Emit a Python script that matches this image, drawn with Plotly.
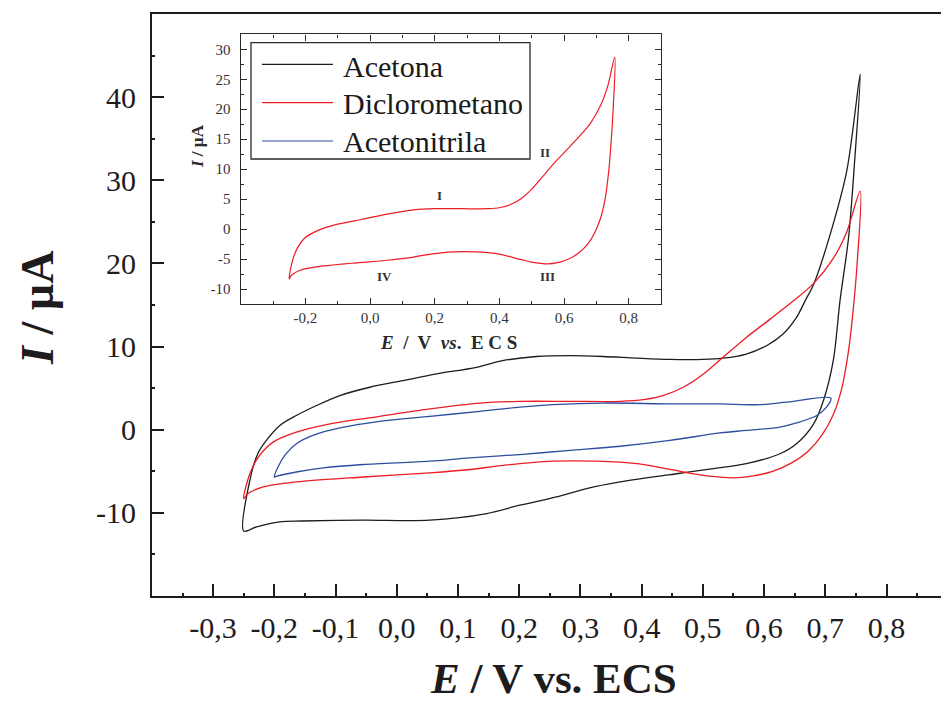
import plotly.graph_objects as go

# ---------------- data ----------------
series_names = ["Acetona", "Diclorometano", "Acetonitrila"]

E_acetona = [-0.250, -0.240, -0.227, -0.213, -0.191, -0.164, -0.131, -0.093, -0.044, 0.010,
             0.065, 0.130, 0.173, 0.228, 0.283, 0.337, 0.392, 0.446, 0.500, 0.533,
             0.571, 0.604, 0.631, 0.653, 0.667, 0.681, 0.708, 0.735, 0.757,
             0.748, 0.738, 0.724, 0.713, 0.697, 0.681, 0.653, 0.626, 0.571, 0.517,
             0.463, 0.365, 0.310, 0.261, 0.201, 0.147, 0.054, -0.055, -0.156, -0.191,
             -0.229, -0.250]
I_acetona = [-12.2, -6.1, -2.9, -1.3, 0.5, 1.7, 2.9, 4.1, 5.1, 5.9,
             6.7, 7.5, 8.3, 8.8, 8.9, 8.8, 8.6, 8.45, 8.45, 8.6,
             9.1, 10.1, 11.5, 13.5, 15.5, 17.5, 23.5, 31.1, 42.8,
             32.4, 23.1, 15.5, 8.3, 3.5, 0.7, -1.7, -2.9, -4.1, -4.7,
             -5.25, -6.3, -7.1, -8.1, -9.1, -10.1, -10.9, -10.9, -11.0, -11.1,
             -11.7, -12.2]

E_dcm = [-0.250, -0.240, -0.224, -0.202, -0.164, -0.109, -0.028, 0.054, 0.136, 0.201,
         0.283, 0.365, 0.403, 0.435, 0.468, 0.501, 0.533, 0.571, 0.610, 0.648,
         0.681, 0.713, 0.735, 0.757,
         0.752, 0.745, 0.738, 0.727, 0.713, 0.695, 0.672, 0.645, 0.615, 0.580,
         0.550, 0.500, 0.468, 0.392, 0.326, 0.255, 0.174, 0.119, 0.054, -0.055,
         -0.164, -0.218, -0.243, -0.250]
I_dcm = [-8.3, -5.3, -3.1, -1.5, -0.3, 0.7, 1.6, 2.5, 3.2, 3.4,
         3.4, 3.4, 3.6, 4.1, 5.1, 6.7, 8.7, 11.1, 13.3, 15.5,
         17.6, 20.6, 23.8, 28.7,
         20.0, 14.0, 9.5, 5.0, 1.8, -0.6, -2.6, -4.0, -5.0, -5.6,
         -5.8, -5.5, -5.1, -4.1, -3.8, -3.8, -4.3, -4.8, -5.2, -5.7,
         -6.3, -6.9, -7.7, -8.3]

E_acn = [-0.200, -0.194, -0.183, -0.164, -0.137, -0.093, -0.028, 0.054, 0.136, 0.201,
         0.255, 0.337, 0.446, 0.528, 0.593, 0.637, 0.709,
         0.702, 0.686, 0.653, 0.626, 0.571, 0.528, 0.446, 0.365, 0.283, 0.201,
         0.119, 0.054, -0.055, -0.120, -0.164, -0.196, -0.200]
I_acn = [-5.7, -4.5, -3.1, -1.7, -0.7, 0.2, 1.0, 1.6, 2.2, 2.7,
         3.0, 3.2, 3.1, 3.1, 3.0, 3.3, 3.8,
         2.7, 1.7, 0.8, 0.3, -0.1, -0.4, -1.3, -2.0, -2.5, -3.0,
         -3.4, -3.8, -4.2, -4.6, -5.1, -5.6, -5.7]

main_x_ticks = [-0.3, -0.2, -0.1, 0.0, 0.1, 0.2, 0.3, 0.4, 0.5, 0.6, 0.7, 0.8]
main_x_labels = ["-0,3", "-0,2", "-0,1", "0,0", "0,1", "0,2", "0,3", "0,4", "0,5", "0,6", "0,7", "0,8"]
main_y_ticks = [-10, 0, 10, 20, 30, 40]
main_y_labels = ["-10", "0", "10", "20", "30", "40"]

inset_x_ticks = [-0.2, 0.0, 0.2, 0.4, 0.6, 0.8]
inset_x_labels = ["-0,2", "0,0", "0,2", "0,4", "0,6", "0,8"]
inset_y_ticks = [-10, -5, 0, 5, 10, 15, 20, 25, 30]
inset_y_labels = ["-10", "-5", "0", "5", "10", "15", "20", "25", "30"]

peak_labels = ["I", "II", "III", "IV"]
peak_E = [0.215, 0.54, 0.55, 0.046]
peak_I = [5.6, 12.8, -7.95, -7.9]

# ---------------- style ----------------
W, H = 941, 704
BLACK = "#1e1c1d"
RED = "#ed1c24"
BLUE = "#2d4d9f"
colors = [BLACK, RED, BLUE]
SERIF = "Liberation Serif, Times New Roman, serif"


def px(x):
    return x / W


def py(y):
    return 1 - y / H


fig = go.Figure()
for name, E, I, c in zip(series_names, [E_acetona, E_dcm, E_acn], [I_acetona, I_dcm, I_acn], colors):
    fig.add_trace(go.Scatter(x=E, y=I, mode="lines", name=name,
                             line=dict(color=c, width=1.3, shape="spline", smoothing=0.9),
                             showlegend=False, xaxis="x", yaxis="y"))

# inset: Diclorometano only
fig.add_trace(go.Scatter(x=E_dcm, y=I_dcm, mode="lines", name=series_names[1],
                         line=dict(color=RED, width=1.2, shape="spline", smoothing=0.9),
                         showlegend=False, xaxis="x2", yaxis="y2"))

fig.update_layout(
    width=W, height=H,
    margin=dict(l=0, r=0, t=0, b=0),
    paper_bgcolor="white", plot_bgcolor="white",
    font=dict(family=SERIF, color=BLACK),
    xaxis=dict(domain=[px(151.9), 1.0], range=[-0.4, 0.889], anchor="y",
               showgrid=False, zeroline=False,
               showline=True, linewidth=2, linecolor=BLACK, mirror=True,
               tickmode="array", tickvals=main_x_ticks, ticktext=main_x_labels,
               ticks="inside", ticklen=12, tickwidth=2, tickcolor=BLACK,
               minor=dict(tick0=0, dtick=0.05, ticks="inside", ticklen=3, tickwidth=1.5, tickcolor=BLACK),
               tickfont=dict(family=SERIF, size=30, color=BLACK), ticklabelstandoff=4),
    yaxis=dict(domain=[py(595.8), py(14.2)], range=[-20, 50], anchor="x",
               showgrid=False, zeroline=False,
               showline=True, linewidth=2, linecolor=BLACK, mirror=False,
               tickmode="array", tickvals=main_y_ticks, ticktext=main_y_labels,
               ticks="inside", ticklen=12, tickwidth=2, tickcolor=BLACK,
               minor=dict(tick0=0, dtick=5, ticks="inside", ticklen=3, tickwidth=1.5, tickcolor=BLACK),
               tickfont=dict(family=SERIF, size=30, color=BLACK), ticklabelstandoff=8),
    xaxis2=dict(domain=[px(240.7), px(661)], range=[-0.4, 0.9], anchor="y2",
                showgrid=False, zeroline=False,
                showline=True, linewidth=1.4, linecolor="#2a2a2a", mirror="allticks",
                tickmode="array", tickvals=inset_x_ticks, ticktext=inset_x_labels,
                ticks="inside", ticklen=6, tickwidth=1.2, tickcolor="#2a2a2a",
                minor=dict(tick0=0, dtick=0.1, ticks="inside", ticklen=3, tickwidth=1, tickcolor="#2a2a2a"),
                tickfont=dict(family=SERIF, size=15, color="#333333"), ticklabelstandoff=0),
    yaxis2=dict(domain=[py(304), py(34.3)], range=[-12.5, 32.5], anchor="x2",
                showgrid=False, zeroline=False,
                showline=True, linewidth=1.4, linecolor="#2a2a2a", mirror="allticks",
                tickmode="array", tickvals=inset_y_ticks, ticktext=inset_y_labels,
                ticks="inside", ticklen=6, tickwidth=1.2, tickcolor="#2a2a2a",
                minor=dict(tick0=0, dtick=2.5, ticks="inside", ticklen=3, tickwidth=1, tickcolor="#2a2a2a"),
                tickfont=dict(family=SERIF, size=15, color="#333333"), ticklabelstandoff=6),
)

annotations = [
    dict(text="<b><i>I</i> / µA</b>", x=px(37), y=py(308), xref="paper", yref="paper",
         textangle=-90, showarrow=False, font=dict(family=SERIF, size=46, color=BLACK),
         xanchor="center", yanchor="middle"),
    dict(text="<b><i>E</i> / V vs. ECS</b>", x=px(553), y=py(678), xref="paper", yref="paper",
         showarrow=False, font=dict(family=SERIF, size=43, color=BLACK),
         xanchor="center", yanchor="middle"),
    dict(text="<b><i>I</i> / µA</b>", x=px(197), y=py(146), xref="paper", yref="paper",
         textangle=-90, showarrow=False, font=dict(family=SERIF, size=17, color="#2a2a2a"),
         xanchor="center", yanchor="middle"),
    dict(text="<b><i>E</i>\u00a0 /\u00a0 V\u00a0 <i>vs</i>.\u00a0 E\u00a0C\u00a0S</b>", x=px(448), y=py(342),
         xref="paper", yref="paper", showarrow=False,
         font=dict(family=SERIF, size=19, color="#2a2a2a"), xanchor="center", yanchor="middle"),
]
for lab, e, i in zip(peak_labels, peak_E, peak_I):
    annotations.append(dict(text="<b>%s</b>" % lab, x=e, y=i, xref="x2", yref="y2", showarrow=False,
                            font=dict(family=SERIF, size=13, color="#333333"),
                            xanchor="center", yanchor="middle"))

# manual legend inside inset
shapes = [dict(type="rect", xref="paper", yref="paper", x0=px(251), x1=px(530), y0=py(159), y1=py(42.7),
               line=dict(color="#2a2a2a", width=1.3), fillcolor="white", layer="above")]
leg_line_y = [64.3, 102.7, 141.0]
leg_text_y = [66.5, 103.5, 141.5]
for name, c, ly, ty in zip(series_names, colors, leg_line_y, leg_text_y):
    shapes.append(dict(type="line", xref="paper", yref="paper", x0=px(262), x1=px(333),
                       y0=py(ly), y1=py(ly), line=dict(color=c, width=1.2), layer="above"))
    annotations.append(dict(text=name, x=px(341), y=py(ty), xref="paper", yref="paper", showarrow=False,
                            font=dict(family=SERIF, size=30, color="#1a1a1a"),
                            xanchor="left", yanchor="middle"))

fig.update_layout(annotations=annotations, shapes=shapes)
fig.write_html("out.html")
